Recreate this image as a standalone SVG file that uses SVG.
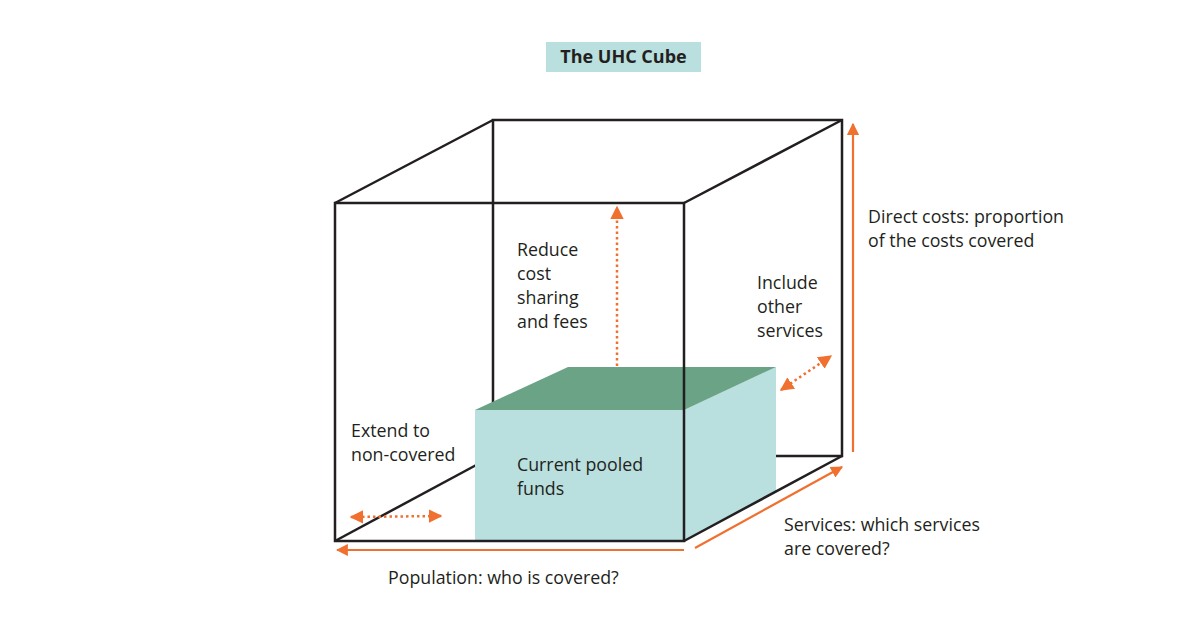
<svg xmlns="http://www.w3.org/2000/svg" width="1200" height="639" viewBox="0 0 1200 639">
<style>
.edge{fill:none;stroke:#231f20;stroke-width:2.5;stroke-linejoin:miter}
.axis{fill:none;stroke:#f07030;stroke-width:2.2}
.dot{fill:none;stroke:#f07030;stroke-width:2.5;stroke-dasharray:2.5 3}
.lbl{font-family:"Open Sans","Liberation Sans",sans-serif;font-size:17.8px;fill:#231f20}
.title{font-family:"Open Sans","Liberation Sans",sans-serif;font-size:18px;font-weight:bold;fill:#231f20}
</style>
<defs>
<marker id="ah" viewBox="0 0 10 10" refX="9" refY="5" markerWidth="5.5" markerHeight="5.5" orient="auto-start-reverse" markerUnits="strokeWidth">
<path d="M0,0 L10,5 L0,10 z" fill="#f07030"/>
</marker>
</defs>
<rect width="1200" height="639" fill="#ffffff"/>
<g id="title">
<rect x="546" y="42" width="155" height="30" fill="#b9dfde"/>
<text class="title" x="623.5" y="63" text-anchor="middle">The UHC Cube</text>
</g>
<g id="cube-back">
<path class="edge" d="M493,410 L493,120 L842,120 L842,456 L776,456"/>
<path class="edge" d="M335,541 L493,456"/>
</g>
<g id="pooled-funds">
<polygon points="475,410 684,410 684,541 475,541" fill="#b9dfde"/>
<polygon points="684,410 776,367 776,491.5 684,541" fill="#b9dfde"/>
<polygon points="475,410 568,367 776,367 684,410" fill="#6ba386"/>
<text class="lbl" x="517" y="471">Current pooled</text>
<text class="lbl" x="517" y="495">funds</text>
</g>
<g id="cube-front">
<rect class="edge" x="335" y="203" width="349" height="338"/>
<path class="edge" d="M335,203 L493,120 M684,203 L842,120 M684,541 L842,456"/>
</g>
<g id="connectors">
<line class="axis" x1="684" y1="550" x2="337" y2="550" marker-end="url(#ah)"/>
<line class="axis" x1="695" y1="548" x2="842" y2="467" marker-end="url(#ah)"/>
<line class="axis" x1="853" y1="452" x2="853" y2="124" marker-end="url(#ah)"/>
<line class="dot" x1="617" y1="366" x2="617" y2="207" marker-end="url(#ah)"/>
<line class="dot" x1="781" y1="390" x2="831" y2="356" marker-start="url(#ah)" marker-end="url(#ah)"/>
<line class="dot" x1="351" y1="517" x2="441" y2="516" marker-start="url(#ah)" marker-end="url(#ah)"/>
</g>
<g id="labels">
<text class="lbl" x="517" y="256">Reduce</text>
<text class="lbl" x="517" y="280">cost</text>
<text class="lbl" x="517" y="304">sharing</text>
<text class="lbl" x="517" y="328">and fees</text>
<text class="lbl" x="757" y="289">Include</text>
<text class="lbl" x="757" y="313">other</text>
<text class="lbl" x="757" y="337">services</text>
<text class="lbl" x="868" y="223">Direct costs: proportion</text>
<text class="lbl" x="868" y="247">of the costs covered</text>
<text class="lbl" x="351" y="437">Extend to</text>
<text class="lbl" x="351" y="461">non-covered</text>
<text class="lbl" x="784" y="531">Services: which services</text>
<text class="lbl" x="784" y="555">are covered?</text>
<text class="lbl" x="388" y="584">Population: who is covered?</text>
</g>
</svg>
